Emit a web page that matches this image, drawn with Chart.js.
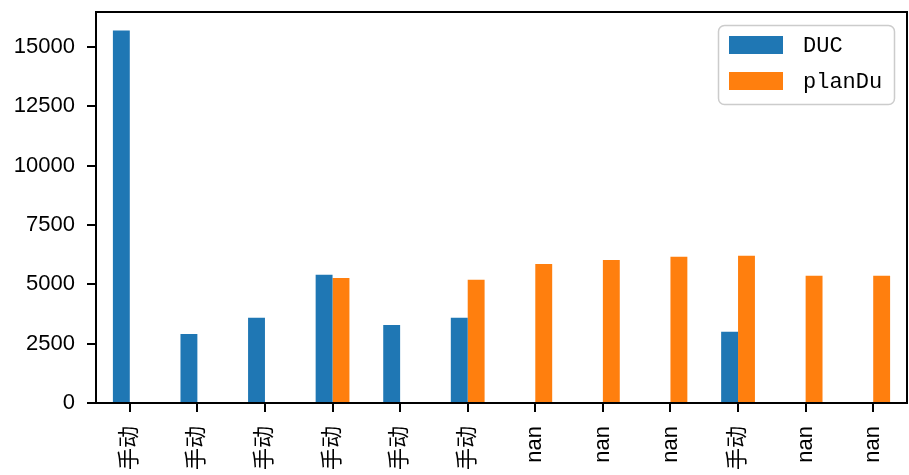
<!DOCTYPE html>
<html>
<head>
<meta charset="utf-8">
<script src="https://cdn.jsdelivr.net/npm/chart.js@4.4.1/dist/chart.umd.min.js"></script>
<style>
    html, body { margin: 0; padding: 0; background: #ffffff; }
    canvas { display: block; }
</style>
</head>
<body>
<canvas id="chart" width="909" height="475"></canvas>
<script>
// data
var categories = ['手动', '手动', '手动', '手动', '手动', '手动', 'nan', 'nan', 'nan', '手动', 'nan', 'nan'];
var ducValues = [15690, 2910, 3590, 5400, 3290, 3590, null, null, null, 3000, null, null];
var planDuValues = [null, null, null, 5270, null, 5190, 5860, 6030, 6160, 6200, 5360, 5360];
var yTickValues = [0, 2500, 5000, 7500, 10000, 12500, 15000];
var seriesNames = ['DUC', 'planDu'];
var seriesColors = ['#1f77b4', '#ff7f0e'];

var tickFont = { family: '"Liberation Sans", "Noto Sans CJK SC", sans-serif', size: 22 };

// y max like matplotlib: 5% headroom over the tallest bar
var allValues = ducValues.concat(planDuValues).filter(function(v) { return v !== null; });
var yMax = Math.max.apply(null, allValues) * 1.05;

// frame round the plot area
var framePlugin = {
    id: 'frame',
    afterDatasetsDraw: function(chart) {
        var a = chart.chartArea;
        var ctx = chart.ctx;
        ctx.save();
        ctx.strokeStyle = '#000000';
        ctx.lineWidth = 2;
        ctx.strokeRect(a.left, a.top, a.right - a.left, a.bottom - a.top);
        ctx.restore();
    }
};

// legend box in the upper right corner, inside the plot
var legendPlugin = {
    id: 'boxLegend',
    afterDraw: function(chart) {
        var a = chart.chartArea;
        var ctx = chart.ctx;
        var w = 176, h = 79;
        var x = a.right - 13 - w;
        var y = a.top + 13;
        ctx.save();
        ctx.fillStyle = 'rgba(255,255,255,0.8)';
        ctx.strokeStyle = '#cccccc';
        ctx.lineWidth = 1.5;
        ctx.beginPath();
        ctx.roundRect(x + 0.5, y + 0.5, w, h, 6);
        ctx.fill();
        ctx.stroke();
        ctx.font = '22px "Liberation Mono", monospace';
        ctx.textBaseline = 'middle';
        chart.data.datasets.forEach(function(ds, i) {
            var rowY = y + 20 + i * 36;
            ctx.fillStyle = ds.backgroundColor;
            ctx.fillRect(x + 11, rowY - 9, 54, 18);
            ctx.fillStyle = '#000000';
            ctx.fillText(ds.label, x + 85, rowY + 1);
        });
        ctx.restore();
    }
};

var ctx = document.getElementById('chart').getContext('2d');

var chart = new Chart(ctx, {
    type: 'bar',
    data: {
        labels: categories,
        datasets: [
            { label: seriesNames[0], data: ducValues, backgroundColor: seriesColors[0] },
            { label: seriesNames[1], data: planDuValues, backgroundColor: seriesColors[1] }
        ]
    },
    options: {
        responsive: false,
        animation: false,
        layout: { padding: { top: 12, right: 2, left: 0, bottom: 0 } },
        datasets: {
            bar: { categoryPercentage: 0.5, barPercentage: 1.0 }
        },
        plugins: {
            legend: { display: false },
            tooltip: { enabled: false }
        },
        scales: {
            x: {
                grid: { display: true, offset: false, drawOnChartArea: false, drawTicks: true, tickLength: 9, color: '#000000', lineWidth: 2 },
                border: { display: false },
                ticks: {
                    autoSkip: false,
                    minRotation: 90,
                    maxRotation: 90,
                    padding: 14,
                    color: '#000000',
                    font: tickFont
                },
                afterFit: function(scale) {
                    scale.height = 72;
                    scale.paddingLeft = 0;
                    scale.paddingRight = 0;
                }
            },
            y: {
                min: 0,
                max: yMax,
                grid: { display: true, drawOnChartArea: false, drawTicks: true, tickLength: 9, color: '#000000', lineWidth: 2 },
                border: { display: false },
                ticks: {
                    padding: 12,
                    color: '#000000',
                    font: tickFont,
                    callback: function(v) { return String(v); }
                },
                afterBuildTicks: function(scale) {
                    scale.ticks = yTickValues.map(function(v) { return { value: v }; });
                },
                afterFit: function(scale) {
                    scale.width = 96;
                    scale.paddingTop = 0;
                    scale.paddingBottom = 0;
                }
            }
        }
    },
    plugins: [framePlugin, legendPlugin]
});
</script>
</body>
</html>
